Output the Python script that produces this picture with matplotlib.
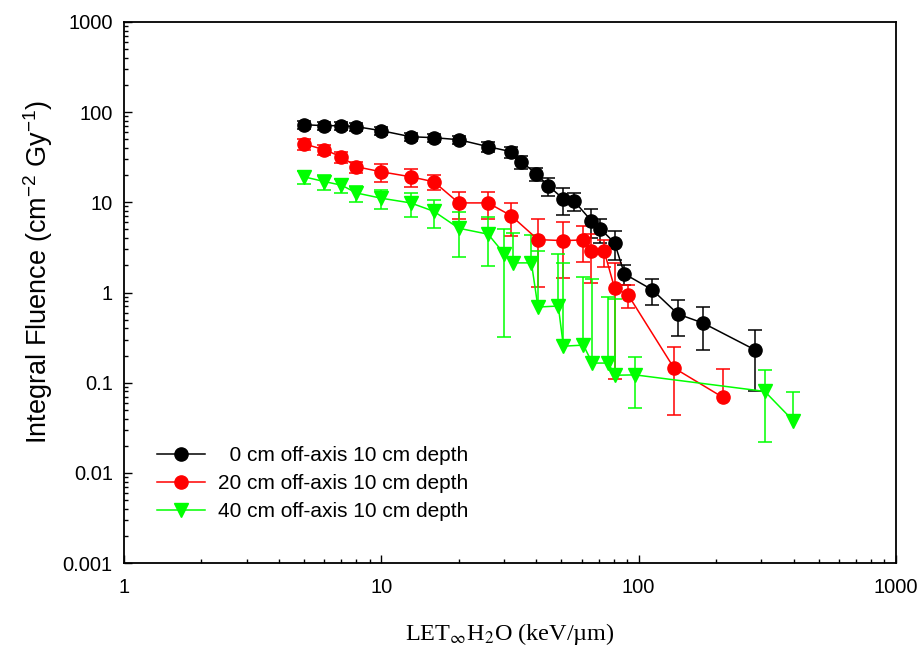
import numpy as np
import matplotlib
matplotlib.use("Agg")
import matplotlib.pyplot as plt
from matplotlib.ticker import LogLocator, NullFormatter

# LET (keV/um) and integral fluence (cm^-2 Gy^-1)
let_0 = [5, 6, 7, 8, 10, 13, 16, 20, 26, 32, 35, 40, 44.5, 51, 56, 65.5, 71, 80.6, 88, 113, 142, 178, 284]
flu_0 = [72.6, 70.8, 70.8, 69.0, 62.3, 53.4, 52.1, 49.5, 41.4, 36.4, 28.2, 20.7, 15.3, 10.9, 10.4,
         6.23, 5.08, 3.55, 1.61, 1.07, 0.577, 0.458, 0.230]
err_0 = [7.9, 7.6, 7.6, 7.4, 6.7, 5.8, 5.6, 5.3, 5.6, 5.0, 4.7, 3.5, 3.4, 3.6, 2.4,
         2.2, 1.5, 1.27, 0.41, 0.34, 0.25, 0.23, 0.15]

let_20 = [5, 6, 7, 8, 10, 13, 16, 20, 26, 32, 40.6, 51, 61, 65.5, 73.5, 80.6, 91, 137, 212]
flu_20 = [44.6, 38.3, 32.0, 24.8, 21.8, 19.2, 16.9, 9.85, 9.85, 7.08, 3.86, 3.76, 3.83, 2.87,
          2.85, 1.12, 0.94, 0.146, 0.069]
err_20 = [6.3, 5.2, 4.4, 3.4, 5.0, 4.4, 3.3, 3.27, 3.27, 2.8, 2.7, 2.31, 1.65, 1.6,
          0.95, 1.01, 0.27, 0.102, 0.072]

let_40 = [5, 6, 7, 8, 10, 13, 16, 20, 26, 30, 32.4, 38.3, 40.6, 48.7, 51, 61, 66, 76, 81, 97, 309, 398]
flu_40 = [19.2, 17.0, 15.5, 12.7, 11.1, 9.85, 7.95, 5.16, 4.43, 2.70, 2.13, 2.13, 0.690, 0.708,
          0.254, 0.261, 0.165, 0.165, 0.121, 0.122, 0.080, 0.038]
err_40 = [3.15, 3.2, 2.7, 2.6, 2.7, 2.95, 2.74, 2.68, 2.47, 2.38, 2.45, 2.22, 2.2, 1.97,
          1.88, 1.23, 1.25, 0.73, 0.73, 0.070, 0.058, 0.040]

labels = ["  0 cm off-axis 10 cm depth", "20 cm off-axis 10 cm depth", "40 cm off-axis 10 cm depth"]

xticks = [1, 10, 100, 1000]
xtick_labels = ["1", "10", "100", "1000"]
yticks = [0.001, 0.01, 0.1, 1, 10, 100, 1000]
ytick_labels = ["0.001", "0.01", "0.1", "1", "10", "100", "1000"]

plt.rcParams['font.family'] = ['Liberation Sans', 'DejaVu Sans']
plt.rcParams['mathtext.fontset'] = 'custom'
plt.rcParams['mathtext.rm'] = 'Liberation Sans'
plt.rcParams['mathtext.it'] = 'Liberation Sans'


def draw_series(ax, x, y, e, color, marker, ms):
    x = np.asarray(x, float)
    y = np.asarray(y, float)
    e = np.asarray(e, float)
    # lower bars that would cross zero are not shown on the log axis
    has_low = (y - e) > 0
    lo = np.where(has_low, e, 0.0)
    cont = ax.errorbar(x, y, yerr=[lo, e], fmt='-', marker=marker, color=color,
                       ms=ms, lw=1.1, elinewidth=1.1, capsize=5, capthick=1.1)
    low_caps = cont[1][0]
    low_caps.set_ydata(np.where(has_low, y - lo, np.nan))
    return cont[0]


fig = plt.figure(figsize=(9.21, 6.5), dpi=100)
ax = fig.add_axes([0.1346, 0.1338, 0.8383, 0.8324])

h0 = draw_series(ax, let_0, flu_0, err_0, 'black', 'o', 9.5)
h1 = draw_series(ax, let_20, flu_20, err_20, '#ff0000', 'o', 9.5)
h2 = draw_series(ax, let_40, flu_40, err_40, '#00ff00', 'v', 10.5)

ax.set_xscale('log')
ax.set_yscale('log')
ax.set_xlim(1, 1000)
ax.set_ylim(0.001, 1000)
ax.set_xticks(xticks)
ax.set_xticklabels(xtick_labels)
ax.set_yticks(yticks)
ax.set_yticklabels(ytick_labels)
ax.xaxis.set_minor_locator(LogLocator(base=10, subs=np.arange(2, 10)))
ax.yaxis.set_minor_locator(LogLocator(base=10, subs=np.arange(2, 10)))
ax.xaxis.set_minor_formatter(NullFormatter())
ax.yaxis.set_minor_formatter(NullFormatter())
ax.tick_params(which='both', direction='in', top=False, right=False, width=1.0, labelsize=14.5)
ax.tick_params(which='major', length=6, pad=8)
ax.tick_params(axis='x', which='major', pad=11)
ax.tick_params(which='minor', length=3)
for sp in ax.spines.values():
    sp.set_linewidth(1.3)

ax.set_ylabel(r'Integral Fluence (cm$^{-2}$ Gy$^{-1}$)', fontsize=19.5)
ax.yaxis.set_label_coords(-0.089, 0.538)
ax.set_xlabel(r'LET$_{\infty}$H$_{2}$O (keV/µm)', fontsize=17.5, family='Liberation Serif',
              math_fontfamily='stix', labelpad=17)

ax.legend([h0, h1, h2], labels, loc='upper left', bbox_to_anchor=(0.043, 0.216),
          frameon=False, fontsize=15, handlelength=2.3, handletextpad=0.6,
          labelspacing=0.43, borderpad=0, borderaxespad=0)

fig.savefig('out.png', dpi=100)
